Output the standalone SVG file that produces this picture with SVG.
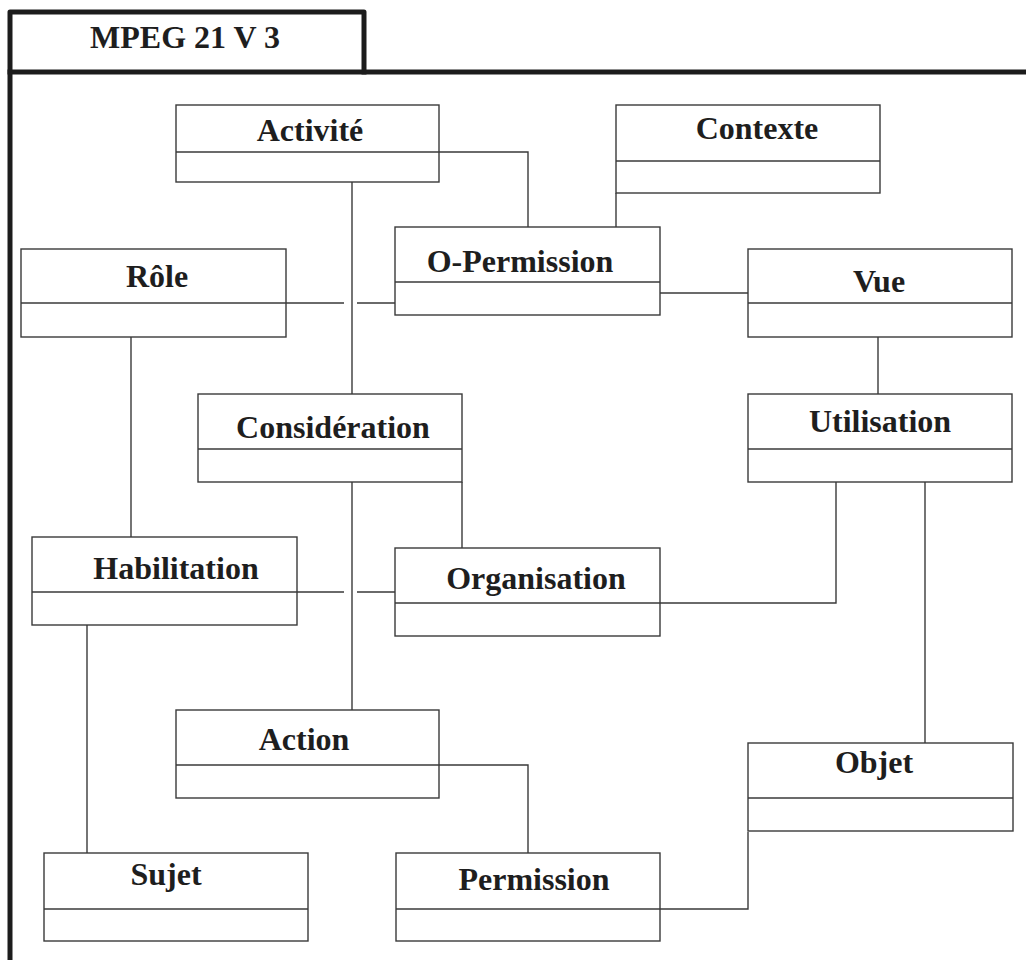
<svg xmlns="http://www.w3.org/2000/svg" width="1026" height="960" viewBox="0 0 1026 960">
  <style>
    .frame { fill: none; stroke: #1c1c1c; stroke-width: 5; stroke-linejoin: round; stroke-linecap: square; }
    .box { fill: #ffffff; stroke: #3a3a3a; stroke-width: 1.4; }
    .div { stroke: #3a3a3a; stroke-width: 1.4; }
    .conn path { fill: none; stroke: #3a3a3a; stroke-width: 1.4; }
    .lbl { font-family: "Liberation Serif", "Times New Roman", serif; font-weight: bold; font-size: 32px; fill: #1e1e1e; text-anchor: middle; }
  </style>
  <rect width="1026" height="960" fill="#ffffff"/>

  <!-- package frame with title tab -->
  <g id="frame">
    <path class="frame" d="M10,960 V12 H364 V72"/>
    <path class="frame" d="M10,72 H1030"/>
    <text class="lbl" x="185" y="48">MPEG 21 V 3</text>
  </g>

  <!-- associations -->
  <g id="connectors" class="conn">
    <path d="M439,152 H528 V227"/>
    <path d="M352,182 V394"/>
    <path d="M616,193 V227"/>
    <path d="M286,303 H344 M357,303 H395"/>
    <path d="M660,293 H748"/>
    <path d="M878,337 V394"/>
    <path d="M131,337 V537"/>
    <path d="M352,482 V710"/>
    <path d="M462,482 V548"/>
    <path d="M297,592 H344 M357,592 H395"/>
    <path d="M836,482 V603 H660"/>
    <path d="M925,482 V743"/>
    <path d="M87,625 V853"/>
    <path d="M439,765 H528 V853"/>
    <path d="M660,909 H748 V832"/>
  </g>

  <g id="activite">
    <rect class="box" x="176" y="105" width="263" height="77"/>
    <line class="div" x1="176" y1="152" x2="439" y2="152"/>
    <text class="lbl" x="310" y="141">Activité</text>
  </g>
  <g id="contexte">
    <rect class="box" x="616" y="105" width="264" height="88"/>
    <line class="div" x1="616" y1="161" x2="880" y2="161"/>
    <text class="lbl" x="757" y="139">Contexte</text>
  </g>
  <g id="o-permission">
    <rect class="box" x="395" y="227" width="265" height="88"/>
    <line class="div" x1="395" y1="282" x2="660" y2="282"/>
    <text class="lbl" x="520" y="272">O-Permission</text>
  </g>
  <g id="role">
    <rect class="box" x="21" y="249" width="265" height="88"/>
    <line class="div" x1="21" y1="303" x2="286" y2="303"/>
    <text class="lbl" x="157" y="287">Rôle</text>
  </g>
  <g id="vue">
    <rect class="box" x="748" y="249" width="264" height="88"/>
    <line class="div" x1="748" y1="303" x2="1012" y2="303"/>
    <text class="lbl" x="879" y="292">Vue</text>
  </g>
  <g id="consideration">
    <rect class="box" x="198" y="394" width="264" height="88"/>
    <line class="div" x1="198" y1="449" x2="462" y2="449"/>
    <text class="lbl" x="333" y="438">Considération</text>
  </g>
  <g id="utilisation">
    <rect class="box" x="748" y="394" width="264" height="88"/>
    <line class="div" x1="748" y1="449" x2="1012" y2="449"/>
    <text class="lbl" x="880" y="432">Utilisation</text>
  </g>
  <g id="habilitation">
    <rect class="box" x="32" y="537" width="265" height="88"/>
    <line class="div" x1="32" y1="592" x2="297" y2="592"/>
    <text class="lbl" x="176" y="579">Habilitation</text>
  </g>
  <g id="organisation">
    <rect class="box" x="395" y="548" width="265" height="88"/>
    <line class="div" x1="395" y1="603" x2="660" y2="603"/>
    <text class="lbl" x="536" y="589">Organisation</text>
  </g>
  <g id="action">
    <rect class="box" x="176" y="710" width="263" height="88"/>
    <line class="div" x1="176" y1="765" x2="439" y2="765"/>
    <text class="lbl" x="304" y="750">Action</text>
  </g>
  <g id="objet">
    <rect class="box" x="748" y="743" width="265" height="88"/>
    <line class="div" x1="748" y1="798" x2="1013" y2="798"/>
    <text class="lbl" x="874" y="773">Objet</text>
  </g>
  <g id="sujet">
    <rect class="box" x="44" y="853" width="264" height="88"/>
    <line class="div" x1="44" y1="909" x2="308" y2="909"/>
    <text class="lbl" x="166" y="885">Sujet</text>
  </g>
  <g id="permission">
    <rect class="box" x="396" y="853" width="264" height="88"/>
    <line class="div" x1="396" y1="909" x2="660" y2="909"/>
    <text class="lbl" x="534" y="890">Permission</text>
  </g>
</svg>
